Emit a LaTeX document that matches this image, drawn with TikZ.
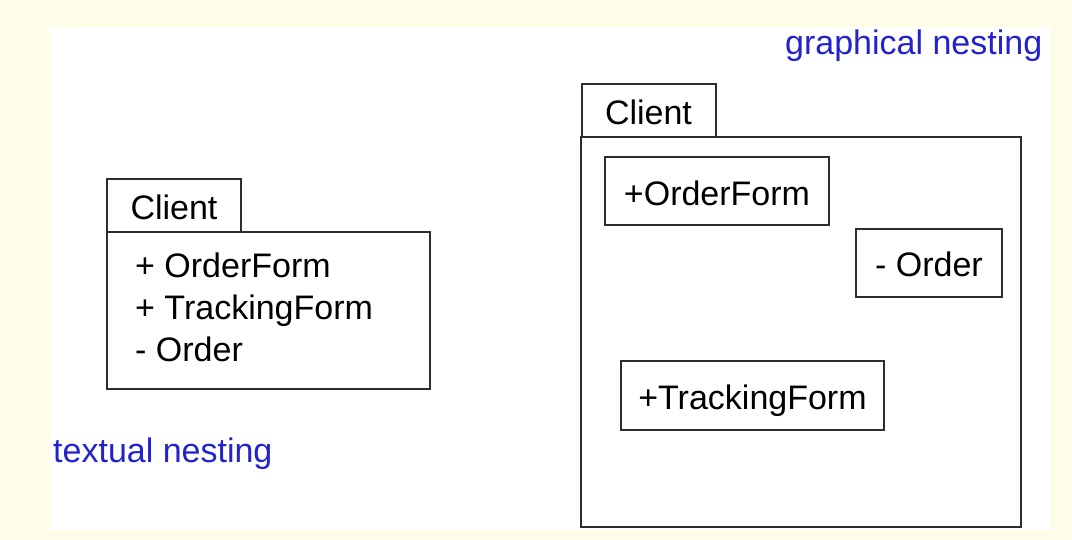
\documentclass[tikz,border=0pt]{standalone}
\usepackage{fontspec}
\setmainfont{Liberation Sans}

\definecolor{cream}{RGB}{255,252,232}
\definecolor{nestblue}{RGB}{35,35,205}
\definecolor{edge}{RGB}{45,45,45}

\tikzset{
  pkgline/.style={draw=edge, line width=2bp},
  pkgtab/.style={pkgline, minimum width=134bp, minimum height=53bp, inner sep=0pt,
    text height=28bp, text depth=0pt, font=\fontsize{34bp}{41bp}\selectfont},
  elembox/.style={pkgline, minimum height=68bp, inner sep=0pt,
    text height=28bp, text depth=0pt, font=\fontsize{34bp}{41bp}\selectfont},
  listitem/.style={anchor=base west, inner sep=0pt, font=\fontsize{34bp}{41bp}\selectfont},
  note/.style={anchor=base west, inner sep=0pt, text=nestblue, font=\fontsize{34bp}{41bp}\selectfont}
}

\begin{document}
\begin{tikzpicture}[x=1bp,y=-1bp]

% page
\fill[cream] (0,0) rectangle (1072,540);
\fill[white] (50,27) rectangle (1050,530);
\useasboundingbox (0,0) rectangle (1072,540);

% textual nesting
\draw[pkgline] (107,232) rectangle (430,389);
\node[pkgtab] (tabL) at (174,206) {Client};
\node[listitem] (ordfL) at (135,278) {+ OrderForm};
\node[listitem] (trkfL) at (135,320) {+ TrackingForm};
\node[listitem] (ordL) at (135,362) {- Order};
\node[note] (textlbl) at (53,462) {textual nesting};

% graphical nesting
\draw[pkgline] (581,137) rectangle (1021,527);
\node[pkgtab] (tabR) at (648.5,110.5) {Client};
\node[elembox, minimum width=224bp] (ordfR) at (717,191.5) {+OrderForm};
\node[elembox, minimum width=146bp] (ordR) at (929,263) {- Order};
\node[elembox, minimum width=263bp] (trkfR) at (752.5,395.5) {+TrackingForm};
\node[note] (graphlbl) at (785,55) {graphical nesting};

\end{tikzpicture}
\end{document}
